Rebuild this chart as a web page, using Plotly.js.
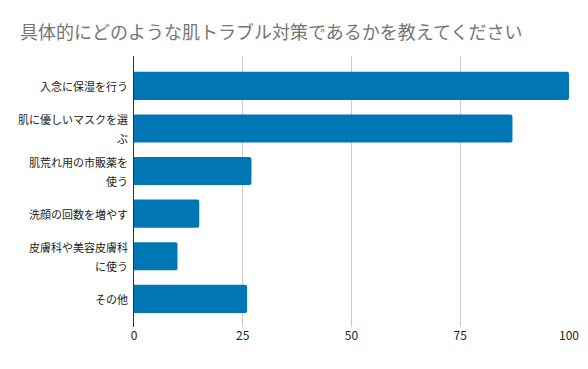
<!DOCTYPE html>
<html>
<head>
<meta charset="utf-8">
<script src="https://cdn.plot.ly/plotly-3.0.1.min.js"></script>
<style>html,body{margin:0;padding:0;background:#fff;}#chart{width:588px;height:369px;}</style>
</head>
<body>
<div id="chart"></div>
<script>
const categoryLines = [
  ["入念に保湿を行う"],
  ["肌に優しいマスクを選", "ぶ"],
  ["肌荒れ用の市販薬を", "使う"],
  ["洗顔の回数を増やす"],
  ["皮膚科や美容皮膚科", "に使う"],
  ["その他"]
];
const categories = categoryLines.map(l => l.join(''));
const values = [100, 87, 27, 15, 10, 26];
const xTicks = [0, 25, 50, 75, 100];

const font = '"Noto Sans CJK JP", "Noto Sans", sans-serif';
const lineGap = 19;

const annotations = [];
categoryLines.forEach((lines, i) => {
  const n = lines.length;
  lines.forEach((txt, j) => {
    annotations.push({
      text: txt,
      xref: 'paper', x: 0, xanchor: 'right', xshift: -4,
      yref: 'y', y: categories[i], yanchor: 'middle',
      yshift: ((n - 1) / 2 - j) * lineGap,
      showarrow: false,
      font: {family: font, size: 11, color: '#222'}
    });
  });
});

Plotly.newPlot('chart', [{
  type: 'bar',
  orientation: 'h',
  x: values,
  y: categories,
  marker: {color: '#0077B5'},
  hoverinfo: 'none'
}], {
  width: 588, height: 369,
  margin: {l: 134, r: 19, t: 56, b: 42},
  paper_bgcolor: '#fff', plot_bgcolor: '#fff',
  bargap: 0.34,
  barcornerradius: 2,
  font: {family: font, size: 11, color: '#222'},
  title: {
    text: '具体的にどのような肌トラブル対策であるかを教えてください',
    font: {family: font, size: 18, color: '#757575'},
    xref: 'container', x: 20/588, xanchor: 'left',
    yref: 'container', y: 1 - 33/369, yanchor: 'middle'
  },
  xaxis: {
    range: [0, 100],
    tickvals: xTicks,
    ticktext: xTicks.map(String),
    showgrid: true, gridcolor: '#cccccc', gridwidth: 1,
    zeroline: false, showline: false,
    ticks: '', tickfont: {size: 12, color: '#222'},
    fixedrange: true
  },
  yaxis: {
    type: 'category',
    categoryarray: categories,
    range: [5.66, -0.70],
    showline: true, linecolor: '#333', linewidth: 1,
    showgrid: false, zeroline: false,
    ticks: '', showticklabels: false,
    fixedrange: true
  },
  annotations: annotations,
  showlegend: false
}, {displayModeBar: false, staticPlot: true});
</script>
</body>
</html>
